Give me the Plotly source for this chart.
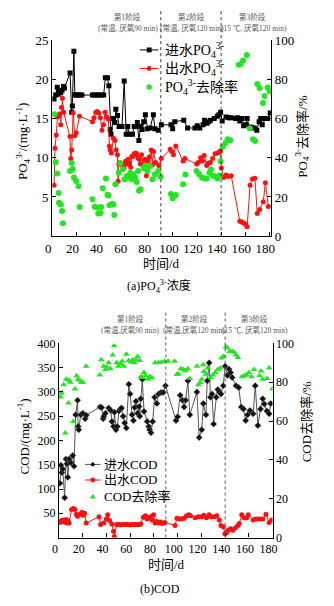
import plotly.graph_objects as go

FONT = "Liberation Serif, Noto Sans CJK SC"
W, H = 334, 606

# ---------------- (a) phosphate ----------------
po4_in_day = [1.4, 2.8, 4.1, 4.9, 6.0, 7.0, 8.1, 9.4, 10.0, 14.7, 16.1, 16.6, 17.9, 18.7,
              20.0, 21.5, 23.0, 24.5, 33.3, 35.0, 36.8, 38.6, 40.5, 42.6, 44.0, 45.8, 46.9,
              48.0, 48.7, 50.6, 51.9, 52.7, 54.1, 55.4, 57.8, 59.6, 61.3, 62.6, 63.9, 66.5,
              67.9, 69.2, 70.5, 71.8, 73.2, 74.5, 75.8, 77.2, 79.0, 81.2, 83.8, 85.1, 87.8,
              90.4, 98.4, 99.8, 101.6, 109.0, 112.2, 118.3, 120.2, 122.3, 125.0, 126.3,
              128.2, 129.7, 131.1, 134.3, 136.9, 138.2, 139.6, 140.9, 144.1, 146.2, 148.4,
              152.0, 153.6, 155.5, 157.4, 158.7, 160.3, 161.6, 163.5, 165.3, 167.5, 169.6,
              171.5, 172.8, 174.1, 176.8, 178.6, 180.7]
po4_in_val = [17.5, 18.0, 19.0, 18.1, 18.4, 18.3, 18.6, 19.1, 18.9, 20.8, 15.8, 16.6, 23.6, 18.0,
              18.0, 18.0, 18.0, 18.0, 18.0, 18.0, 18.0, 18.0, 18.0, 18.0, 20.2, 20.2, 19.2,
              13.6, 13.0, 15.0, 14.5, 16.2, 15.4, 14.0, 14.0, 19.8, 13.0, 14.0, 13.0, 13.0,
              14.0, 14.0, 14.5, 12.2, 14.0, 13.6, 14.6, 15.5, 13.7, 13.8, 15.5, 13.7, 13.5,
              14.2, 14.2, 13.7, 14.6, 14.8, 13.8, 13.8, 14.1, 13.8, 14.2, 14.8,
              14.4, 14.6, 14.8, 15.0, 15.3, 15.5, 15.8, 14.7, 15.2, 15.1, 15.1,
              15.0, 15.1, 14.7, 15.0, 14.1, 14.2, 15.0, 13.9, 13.9, 13.8, 13.5,
              14.6, 15.0, 14.2, 15.0, 15.0, 15.7]

po4_out_day = [1.5, 2.2, 3.3, 4.3, 5.2, 6.3, 7.0, 7.6, 8.4, 9.4, 14.6, 15.3, 16.1, 17.3, 18.6,
               19.8, 22.6, 33.3, 34.6, 36.0, 37.3, 38.6, 39.9, 41.2, 42.5, 43.8, 45.2, 46.5,
               47.4, 48.0, 49.0, 50.7, 52.0, 53.0, 54.0, 54.6, 55.2, 56.0, 57.0, 58.4, 59.5,
               60.3, 61.0, 62.0, 63.0, 64.0, 65.0, 66.0, 67.0, 68.0, 69.0, 70.0, 71.0, 72.0,
               73.0, 74.0, 75.0, 76.0, 77.0, 78.0, 79.5, 80.5, 82.0, 83.0, 84.0, 85.7, 88.3,
               90.4, 97.8, 99.0, 100.5, 102.4, 108.5, 110.0, 119.7, 121.0, 123.0, 124.5,
               126.0, 128.0, 129.5, 131.0, 133.0, 135.0, 137.0, 138.5, 139.5, 140.2, 142.2,
               144.1, 146.2, 148.4, 155.5, 157.0, 158.5, 160.3, 161.6, 164.0, 166.0, 168.0,
               170.0, 172.0, 175.0, 176.7, 179.2]
po4_out_val = [6.5, 11.2, 12.9, 15.2, 15.4, 15.6, 14.2, 16.4, 17.6, 15.8, 12.7, 9.9, 11.0, 15.7, 12.8,
               13.2, 15.3, 14.6, 15.1, 15.8, 15.9, 15.7, 15.1, 13.5, 14.2, 15.8, 15.2, 14.9,
               11.5, 11.0, 10.6, 12.5, 12.2, 11.0, 10.4, 7.0, 9.2, 9.4, 9.2, 9.0, 8.7,
               9.3, 9.6, 9.2, 9.8, 9.3, 8.8, 10.2, 10.2, 10.5, 10.6, 10.5, 10.0, 9.8,
               9.2, 10.4, 9.2, 8.6, 9.8, 7.7, 9.6, 10.1, 11.0, 9.1, 10.8, 9.4, 9.0,
               9.9, 11.1, 10.8, 10.4, 11.5, 9.6, 9.9, 9.2, 9.4, 10.0, 9.6,
               10.3, 9.0, 9.3, 9.4, 9.9, 10.5, 10.6, 10.7, 10.9, 8.7, 7.5,
               7.8, 7.6, 7.7, 1.9, 1.8, 1.7, 1.5, 1.2, 6.5, 7.3, 7.4,
               2.9, 3.4, 4.4, 6.8, 3.8]

po4_rem_day = [1.9, 2.8, 4.1, 5.2, 5.6, 7.0, 8.1, 8.8, 14.7, 16.1, 16.9, 18.0, 19.8, 21.7,
               22.7, 33.3, 35.2, 37.3, 38.1, 40.0, 40.5, 41.8, 44.5, 45.8, 46.6, 47.4, 49.3,
               50.6, 51.4, 52.4, 55.1, 56.4, 58.6, 59.9, 61.8, 63.3, 64.7, 66.0, 67.1, 68.7,
               70.0, 71.1, 71.9, 73.2, 75.8, 77.1, 79.0, 81.1, 83.0, 85.1, 87.8, 89.9,
               98.4, 99.8, 102.4, 108.5, 110.4, 119.7, 121.8, 124.1, 126.3, 128.1, 130.3,
               131.6, 132.9, 135.1, 136.9, 138.8, 139.6, 141.4, 143.6, 145.4, 147.6,
               154.7, 156.3, 158.2, 161.3, 163.8, 166.5, 168.2, 170.0, 172.0, 174.7, 176.0,
               178.6, 180.2]
po4_rem_val = [62.2, 37.7, 32.0, 22.0, 17.0, 16.1, 12.9, 6.6, 33.2, 37.3, 34.3, 29.9, 28.2, 25.5,
               14.9, 18.8, 15.0, 14.6, 11.6, 11.8, 14.9, 24.4, 29.4, 21.1, 20.7, 15.8, 16.4,
               16.1, 10.8, 26.5, 32.3, 37.3, 34.3, 29.0, 30.7, 30.0, 32.4, 29.0, 31.6, 30.0,
               27.7, 33.2, 23.2, 24.0, 34.8, 36.0, 33.2, 35.8, 29.0, 31.6, 33.2, 30.3,
               21.5, 19.4, 21.0, 26.5, 31.5, 33.2, 31.6, 29.9, 29.4, 29.4, 32.3,
               34.0, 31.0, 30.5, 29.4, 31.0, 38.2, 45.6, 47.6, 49.4, 48.9,
               87.4, 87.8, 89.6, 92.4, 55.0, 49.5, 48.5, 77.6, 75.6, 68.0, 71.5,
               75.8, 74.0]

# ---------------- (b) COD ----------------
cod_in_day = [0.8, 1.5, 2.3, 3.1, 4.7, 5.8, 6.6, 7.4, 8.5, 9.9, 11.5, 12.6, 14.0, 15.6, 16.1,
              16.6, 18.3, 20.1, 22.0, 22.9, 34.5, 35.9, 37.2, 37.7, 39.1, 41.8, 43.7, 44.5,
              45.9, 46.7, 48.0, 49.1, 50.5, 51.8, 52.6, 54.0, 55.3, 56.7, 58.8, 59.9, 61.5,
              62.7, 63.7, 64.8, 66.2, 67.5, 68.0, 68.8, 70.2, 71.6, 74.3, 75.6, 76.4, 77.5,
              78.9, 80.5, 82.4, 83.8, 85.9, 87.8, 89.7, 98.6, 100.0, 102.1, 104.0, 105.4,
              106.7, 108.6, 110.2, 116.2, 118.1, 120.3, 121.6, 123.8, 124.9, 126.5, 127.6,
              128.9, 130.3, 132.5, 133.8, 135.1, 136.5, 138.4, 140.0, 141.9, 143.3, 144.6,
              145.9, 149.2, 151.4, 153.6, 155.4, 157.3, 158.9, 160.9, 163.6, 165.4, 167.6,
              169.8, 171.7, 173.0, 175.2, 177.1, 178.4]
cod_in_val = [112, 149, 134, 141, 82, 162, 152, 124, 162, 154, 169, 147, 253, 283, 229,
              222, 253, 256, 245, 252, 269, 268, 245, 250, 256, 267, 262, 239,
              229, 258, 222, 229, 261, 265, 267, 250, 236, 226, 316, 296, 253,
              241, 268, 281, 256, 270, 250, 286, 326, 260, 239, 229, 222, 216,
              239, 289, 276, 296, 299, 299, 313, 241, 249, 293, 283, 269,
              283, 323, 253, 300, 206, 222, 276, 253, 323, 360, 289,
              296, 234, 289, 305, 300, 296, 313, 353, 334, 347, 340,
              330, 313, 309, 269, 265, 241, 253, 262, 255, 313, 231,
              265, 286, 275, 261, 255, 276]

cod_out_day = [0.8, 1.5, 2.3, 3.1, 4.0, 5.0, 5.8, 6.6, 7.4, 8.5, 10.5, 12.0, 13.4, 14.5, 15.6,
               17.5, 19.3, 20.3, 21.5, 22.9, 33.7, 35.0, 37.7, 39.9, 41.0, 42.6, 44.5, 45.9,
               46.6, 48.5, 50.0, 51.6, 53.2, 54.8, 56.4, 58.0, 59.6, 61.2, 62.8, 64.4, 66.0,
               67.6, 68.9, 71.0, 72.9, 74.2, 75.6, 77.0, 78.3, 79.7, 81.0, 82.4, 84.0, 85.5,
               87.0, 89.1, 97.8, 99.4, 101.3, 103.2, 105.4, 107.5, 109.4, 110.8, 114.9,
               117.5, 120.3, 122.0, 124.3, 126.5, 128.4, 131.1, 133.0, 135.1, 136.5, 138.4,
               139.8, 141.1, 142.7, 144.6, 146.5, 148.7, 150.8, 151.9, 154.0, 156.0, 158.1,
               159.5, 163.6, 165.4, 167.6, 169.8, 171.7, 174.4, 177.1, 179.2]
cod_out_val = [31, 34, 33, 36, 35, 32, 37, 30, 35, 30, 58, 60, 58, 48, 44,
               48, 52, 46, 50, 30, 43, 27, 30, 38, 47, 35, 28, 13,
               2, 27, 27, 26, 27, 27, 27, 27, 26, 27, 27, 27, 27,
               27, 28, 42, 45, 38, 41, 43, 36, 47, 30, 33, 30, 32,
               29, 31, 25, 40, 38, 38, 40, 45, 47, 45, 41,
               43, 43, 46, 41, 47, 43, 43, 45, 36, 25, 22,
               8, 10, 15, 18, 15, 20, 25, 29, 47, 41, 41,
               47, 36, 38, 38, 38, 38, 48, 31, 36]

cod_rem_day = [1.2, 2.0, 3.9, 5.3, 6.1, 8.0, 8.5, 9.5, 12.0, 13.4, 14.8, 16.0, 17.5, 18.8,
               20.0, 22.9, 34.3, 35.6, 37.7, 39.1, 40.4, 41.8, 43.2, 45.3, 46.4, 48.5,
               49.9, 51.8, 53.2, 54.5, 56.7, 58.8, 60.7, 62.1, 63.5, 64.8, 66.2, 68.0,
               68.9, 70.2, 71.6, 72.9, 74.8, 76.4, 78.3, 81.0, 83.8, 86.4, 89.1, 91.9,
               97.3, 99.4, 100.5, 102.7, 104.9, 106.7, 108.6, 110.2, 116.2, 117.5, 118.9,
               120.3, 121.6, 122.2, 123.8, 125.4, 127.6, 129.7, 131.7, 133.8, 136.0, 137.0,
               138.6, 140.6, 141.9, 143.8, 145.9, 147.6, 149.2, 150.8, 154.1, 156.3, 158.1,
               160.0, 162.2, 164.4, 169.0, 170.3, 171.7, 175.2, 177.1, 179.8]
cod_rem_val = [72.4, 74.5, 78.7, 53.9, 81.6, 69.3, 81.0, 80.0, 59.8, 76.5, 83.3, 81.5, 81.0, 79.9,
               80.0, 88.3, 83.8, 91.6, 88.3, 86.6, 87.8, 90.0, 87.0, 94.1, 98.8, 90.0,
               88.3, 89.5, 90.8, 88.3, 94.5, 91.2, 90.5, 91.6, 90.0, 91.6, 93.3, 91.2,
               82.8, 82.5, 85.0, 83.3, 81.6, 82.8, 82.5, 90.0, 90.0, 90.3, 90.8, 90.8,
               90.8, 84.0, 84.3, 87.0, 86.6, 86.0, 87.0, 82.0, 88.3, 78.7, 79.9,
               81.6, 89.0, 85.5, 84.1, 87.4, 82.5, 83.8, 85.0, 86.6, 87.4, 92.5,
               93.3, 98.3, 97.8, 95.8, 95.8, 95.5, 94.1, 92.8, 82.8, 83.3, 83.8,
               85.0, 82.8, 86.6, 83.3, 85.8, 81.6, 82.0, 87.4, 76.5]

# phase boundaries and phase notes
phase_bounds = [90, 140]
phase_top = ["第1阶段", "第2阶段", "第3阶段"]
phase_sub_a = ["(常温, 厌氧90 min)", "(常温, 厌氧120 min)", "(15 ℃, 厌氧120 min)"]
phase_sub_b = ["(常温,厌氧90 min)", "(常温,厌氧120 min)", "(15 ℃, 厌氧120 min)"]

x_ticks = list(range(0, 181, 20))

RED = "#ff1010"
GREEN = "#22e622"
po4 = "PO<sub>4</sub><sup>3-</sup>"


def px_x(p):
    return p / W


def px_y(p):
    return 1 - p / H


fig = go.Figure()

fig.add_trace(go.Scatter(
    x=po4_in_day, y=po4_in_val, mode="lines+markers", name="进水" + po4,
    line=dict(color="black", width=1), marker=dict(symbol="square", size=5, color="black"),
    xaxis="x", yaxis="y", showlegend=False))
fig.add_trace(go.Scatter(
    x=po4_out_day, y=po4_out_val, mode="lines+markers", name="出水" + po4,
    line=dict(color=RED, width=1), marker=dict(symbol="circle", size=5, color=RED),
    xaxis="x", yaxis="y", showlegend=False))
fig.add_trace(go.Scatter(
    x=po4_rem_day, y=po4_rem_val, mode="markers", name=po4 + "去除率",
    marker=dict(symbol="circle", size=6, color=GREEN),
    xaxis="x", yaxis="y2", showlegend=False))

fig.add_trace(go.Scatter(
    x=cod_in_day, y=cod_in_val, mode="lines+markers", name="进水COD",
    line=dict(color="#555555", width=1),
    marker=dict(symbol="diamond", size=5, color="#111111",
                line=dict(color="#888888", width=0.4)),
    xaxis="x2", yaxis="y3", showlegend=False))
fig.add_trace(go.Scatter(
    x=cod_out_day, y=cod_out_val, mode="lines+markers", name="出水COD",
    line=dict(color=RED, width=1), marker=dict(symbol="circle", size=5, color=RED),
    xaxis="x2", yaxis="y3", showlegend=False))
fig.add_trace(go.Scatter(
    x=cod_rem_day, y=cod_rem_val, mode="markers", name="COD去除率",
    marker=dict(symbol="triangle-up", size=6, color=GREEN),
    xaxis="x2", yaxis="y4", showlegend=False))

axis_common = dict(showline=True, linecolor="black", linewidth=1.2, ticks="inside",
                   ticklen=4, tickcolor="black", showgrid=False, zeroline=False,
                   mirror=False)

top_y = [px_y(235), px_y(34)]
bot_y = [px_y(544), px_y(345)]

fig.update_layout(
    width=W, height=H, margin=dict(l=0, r=0, t=0, b=0),
    paper_bgcolor="white", plot_bgcolor="white",
    font=dict(family=FONT, color="black"),
    showlegend=False,
    xaxis=dict(domain=[px_x(47), px_x(274)], range=[0, 181.5], anchor="y",
               tickvals=x_ticks, tickfont=dict(size=13), ticklabelshift=-4,
               **axis_common),
    yaxis=dict(domain=top_y, range=[0, 25], anchor="x", tickvals=[5, 10, 15, 20, 25],
               tickfont=dict(size=13), **axis_common),
    yaxis2=dict(range=[0, 100], overlaying="y", side="right", anchor="x",
                tickvals=[0, 20, 40, 60, 80, 100], tickfont=dict(size=13), **axis_common),
    xaxis2=dict(domain=[px_x(54), px_x(275.5)], range=[0, 180], anchor="y3",
                tickvals=x_ticks, tickfont=dict(size=12), ticklabelshift=-4,
                **axis_common),
    yaxis3=dict(domain=bot_y, range=[0, 400], anchor="x2",
                tickvals=[50, 100, 150, 200, 250, 300, 350, 400],
                tickfont=dict(size=12), **axis_common),
    yaxis4=dict(range=[0, 100], overlaying="y3", side="right", anchor="x2",
                tickvals=[0, 20, 40, 60, 80, 100], tickfont=dict(size=12), **axis_common),
)

shapes = []
ann = []

# phase boundaries
for b in phase_bounds:
    shapes.append(dict(type="line", xref="x", yref="paper", x0=b, x1=b,
                       y0=px_y(235), y1=px_y(3),
                       line=dict(color="#333333", width=1, dash="dot")))
    shapes.append(dict(type="line", xref="x2", yref="paper", x0=b, x1=b,
                       y0=px_y(544), y1=px_y(313),
                       line=dict(color="#555555", width=1, dash="dot")))


def label(x, y, text, size, color="black", angle=0, xanchor="center"):
    ann.append(dict(x=px_x(x), y=px_y(y), xref="paper", yref="paper", text=text,
                    textangle=angle, showarrow=False, xanchor=xanchor, yanchor="middle",
                    font=dict(size=size, color=color, family=FONT)))


gray = "#555555"
for cx, t1, t2 in zip([125, 191, 255], phase_top, phase_sub_a):
    label(cx, 10, t1, 7.5, gray)
    label(cx + 1, 22, t2, 7.5, gray)
for cx, t1, t2 in zip([128, 194, 257], phase_top, phase_sub_b):
    label(cx, 320, t1, 7.5, gray)
    label(cx, 331, t2, 7.5, gray)

# axis titles and captions
label(16, 137, po4 + "/(mg·L<sup>-1</sup>)", 13, angle=-90)
label(306, 133, po4 + "去除率/%", 13, angle=-90)
label(160, 263, "时间/d", 13)
label(158, 287, "(a)" + po4 + "浓度", 12)
label(17, 440, "COD/(mg·L<sup>-1</sup>)", 13, angle=-90)
label(311, 425, "COD去除率/%", 13, angle=-90)
label(165, 572, "时间/d", 13)
label(159, 597, "(b)COD", 12)


# legend keys, drawn in paper coordinates
def key_line(x0, x1, y, color):
    shapes.append(dict(type="line", xref="paper", yref="paper",
                       x0=px_x(x0), x1=px_x(x1), y0=px_y(y), y1=px_y(y),
                       line=dict(color=color, width=1)))


def key_square(cx, cy, s, color):
    shapes.append(dict(type="rect", xref="paper", yref="paper",
                       x0=px_x(cx - s / 2), x1=px_x(cx + s / 2),
                       y0=px_y(cy + s / 2), y1=px_y(cy - s / 2),
                       fillcolor=color, line=dict(width=0)))


def key_circle(cx, cy, s, color):
    shapes.append(dict(type="circle", xref="paper", yref="paper",
                       x0=px_x(cx - s / 2), x1=px_x(cx + s / 2),
                       y0=px_y(cy + s / 2), y1=px_y(cy - s / 2),
                       fillcolor=color, line=dict(width=0)))


def key_path(points, color):
    d = "M " + " L ".join(f"{px_x(a):.5f},{px_y(b):.5f}" for a, b in points) + " Z"
    shapes.append(dict(type="path", xref="paper", yref="paper", path=d,
                       fillcolor=color, line=dict(width=0)))


# (a) legend
key_line(138, 157, 44, "black")
key_square(147.5, 44, 5, "black")
label(162, 44, "进水" + po4, 14, xanchor="left")
key_line(138, 157, 63, RED)
key_circle(147.5, 63, 5, RED)
label(162, 63, "出水" + po4, 14, xanchor="left")
key_circle(147.5, 82, 5.5, GREEN)
label(162, 82, po4 + "去除率", 14, xanchor="left")

# (b) legend
key_line(81, 97, 469, "#555555")
key_path([(89, 466.5), (91.5, 469), (89, 471.5), (86.5, 469)], "black")
label(99, 469, "进水COD", 13, xanchor="left")
key_line(81, 97, 485, RED)
key_circle(89, 485, 5, RED)
label(99, 485, "出水COD", 13, xanchor="left")
key_path([(89, 499), (92, 504), (86, 504)], GREEN)
label(99, 502, "COD去除率", 13, xanchor="left")

fig.update_layout(shapes=shapes, annotations=ann)

fig.write_html("out.html")
